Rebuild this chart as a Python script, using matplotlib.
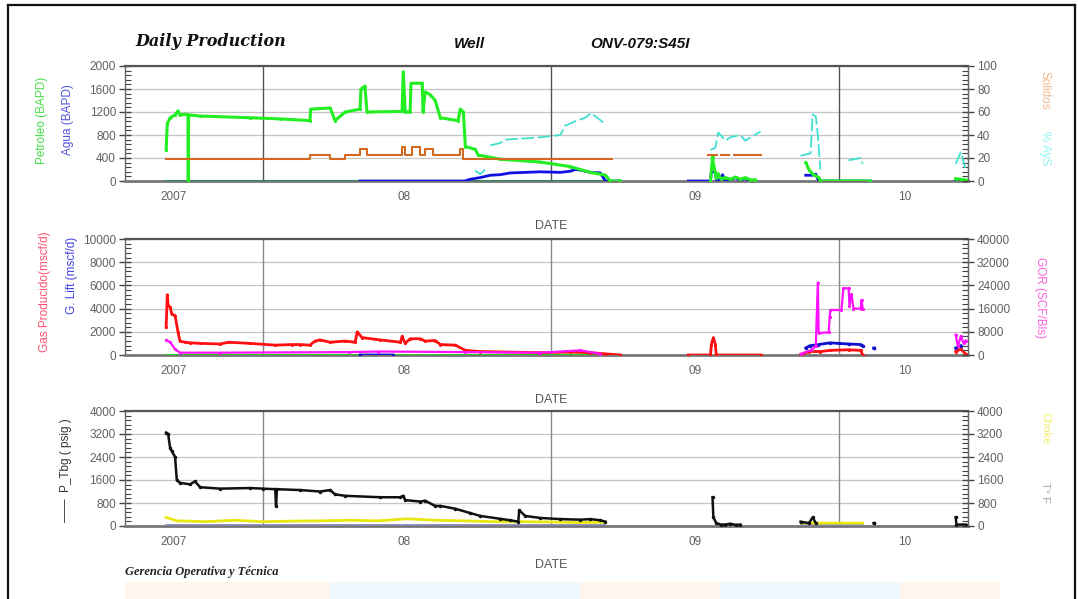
import matplotlib.pyplot as plt
import numpy as np
from matplotlib.ticker import MultipleLocator, AutoMinorLocator
from matplotlib.patches import Rectangle

nan = np.nan

# x positions are decimal years
year_ticks = [2007.19, 2007.99, 2009.0, 2009.73]
year_labels = ['2007', '08', '09', '10']
year_lines = [2007.5, 2008.5, 2009.5]
x_range = (2007.02, 2009.95)

# ---- panel 1: oil, water (BAPD) / solids, cyan (%) ----
oil_x = [2007.163, 2007.167, 2007.177, 2007.194, 2007.204, 2007.211, 2007.229, 2007.239, 2007.240,
         2007.241, 2007.281, 2007.455, 2007.559, 2007.663, 2007.665, 2007.733, 2007.750, 2007.785,
         2007.837, 2007.840, 2007.854, 2007.861, 2007.983, 2007.987, 2007.994, 2008.011, 2008.014,
         2008.053, 2008.056, 2008.063, 2008.081, 2008.098, 2008.116, 2008.178, 2008.185, 2008.196,
         2008.203, 2008.237, 2008.248, 2008.324, 2008.463, 2008.568, 2008.637, 2008.690, 2008.707,
         2008.742, nan,
         2009.055, 2009.062, 2009.065, 2009.072, 2009.075, 2009.082, 2009.090, 2009.107, 2009.124,
         2009.142, 2009.159, 2009.176, 2009.194, 2009.211, nan,
         2009.386, 2009.397, 2009.410, 2009.431, 2009.437, 2009.611, nan,
         2009.907, 2009.925, 2009.942]
oil_y = [540, 1000, 1100, 1150, 1220, 1150, 1160, 1150, 0,
         1150, 1130, 1100, 1080, 1050, 1250, 1270, 1050, 1200,
         1250, 1600, 1650, 1200, 1210, 1900, 1200, 1200, 1700,
         1700, 1200, 1550, 1500, 1400, 1100, 1050, 1250, 1200,
         600, 550, 450, 380, 330, 250, 150, 100, 0,
         0, nan,
         0, 420, 300, 150, 50, 130, 40, 60, 30,
         70, 30, 60, 20, 20, nan,
         320, 200, 120, 60, 0, 0, nan,
         40, 30, 20]

water_x = [2007.837, 2008.200, 2008.220, 2008.255, 2008.290, 2008.324, 2008.359, 2008.411, 2008.463,
           2008.533, 2008.568, 2008.585, 2008.603, 2008.637, 2008.672, 2008.690, 2008.742, nan,
           2008.978, 2009.055, 2009.058, 2009.072, 2009.075, 2009.090, 2009.097, 2009.104, 2009.124,
           2009.142, 2009.155, 2009.176, 2009.190, 2009.211, nan,
           2009.386, 2009.410, 2009.421, 2009.431, 2009.611, nan,
           2009.907, 2009.942]
water_y = [0, 0, 30, 60, 100, 110, 140, 150, 160,
           150, 170, 200, 190, 150, 140, 0, 0, nan,
           0, 0, 160, 160, 20, 20, 110, 20, 20,
           60, 20, 40, 10, 10, nan,
           100, 100, 120, 0, 0, nan,
           10, 10]

solids_x = [2007.163, 2007.663, 2007.733, 2007.785, 2007.837, 2007.861, 2007.983, 2007.994, 2008.018,
            2008.046, 2008.063, 2008.091, 2008.185, 2008.196, 2008.714, nan,
            2009.045, 2009.076, nan, 2009.093, 2009.121, nan, 2009.138, 2009.229]
solids_y = [19, 23, 19, 23, 27.5, 23, 30, 23, 30,
            23, 27.5, 23, 27.5, 19, 19, nan,
            23, 23, nan, 23, 23, nan, 23, 23]

cyan_x = [2008.237, 2008.255, 2008.272, nan, 2008.290, 2008.324, 2008.340, 2008.410, 2008.463,
          2008.533, 2008.550, 2008.585, 2008.620, 2008.640, 2008.672, 2008.690, nan,
          2009.055, 2009.072, 2009.082, 2009.090, 2009.107, 2009.124, 2009.159, 2009.176, 2009.194,
          2009.229, nan,
          2009.368, 2009.403, 2009.410, 2009.421, 2009.428, 2009.437, nan,
          2009.535, 2009.577, 2009.584, nan,
          2009.907, 2009.925, 2009.942]
cyan_y = [9, 6, 10, nan, 31, 33, 36, 37, 38,
          40, 48, 52, 55, 59, 53, 49, nan,
          27, 29, 42, 40, 35, 38, 40, 35, 38,
          43, nan,
          22, 24, 58, 56, 40, 10, nan,
          18, 20, 15, nan,
          15, 25, 10]

# ---- panel 2: gas, gas lift (mscf/d) / GOR ----
gas_x = [2007.163, 2007.167, 2007.170, 2007.177, 2007.183, 2007.194, 2007.204, 2007.211, 2007.229,
         2007.246, 2007.281, 2007.350, 2007.380, 2007.455, 2007.542, 2007.600, 2007.629, 2007.663,
         2007.680, 2007.698, 2007.733, 2007.785, 2007.820, 2007.827, 2007.844, 2007.907, 2007.977,
         2007.983, 2007.994, 2008.011, 2008.046, 2008.063, 2008.098, 2008.116, 2008.168, 2008.203,
         2008.255, 2008.463, 2008.568, 2008.637, 2008.690, 2008.742, nan,
         2008.978, 2009.055, 2009.058, 2009.065, 2009.072, 2009.075, 2009.229, nan,
         2009.368, 2009.397, 2009.437, 2009.472, 2009.535, 2009.577, 2009.584, nan,
         2009.907, 2009.925, 2009.942]
gas_y = [2400, 5200, 4300, 4100, 3500, 3400, 2000, 1200, 1100,
         1050, 1000, 950, 1100, 1000, 850, 900, 900, 850,
         1200, 1300, 1100, 1200, 1100, 2000, 1500, 1300, 1100,
         1600, 1000, 1400, 1400, 1200, 1250, 900, 850, 400,
         300, 200, 250, 200, 100, 0, nan,
         0, 0, 900, 1500, 900, 0, 0, nan,
         0, 300, 300, 400, 450, 400, 0, nan,
         300, 500, 100]

lift_x = [2007.837, 2007.950, nan,
          2009.386, 2009.400, 2009.430, 2009.470, 2009.500, 2009.535, 2009.577, 2009.584, nan,
          2009.622, 2009.624, nan, 2009.907, 2009.925]
lift_y = [0, 0, nan,
          600, 800, 900, 1050, 1000, 950, 900, 800, nan,
          600, 600, nan, 600, 800]

gor_x = [2007.163, 2007.177, 2007.194, 2007.211, 2007.350, 2007.800, 2007.900, 2008.200, 2008.460,
         2008.500, 2008.603, 2008.672, nan,
         2009.368, 2009.403, 2009.421, 2009.428, 2009.431, 2009.466, 2009.469, 2009.472, 2009.510,
         2009.517, 2009.535, 2009.538, 2009.545, 2009.552, 2009.577, 2009.580, 2009.584, nan,
         2009.907, 2009.915, 2009.925, 2009.935, 2009.942]
gor_y = [5200, 4400, 2000, 800, 800, 1000, 1200, 1000, 800,
         1000, 1600, 400, nan,
         400, 1600, 3000, 25000, 7600, 7800, 13000, 15500, 15500,
         23000, 23000, 17000, 21000, 16000, 16000, 19000, 16000, nan,
         7000, 3000, 6500, 4000, 5000]

# ---- panel 3: tubing pressure and others (psig) ----
ptbg_x = [2007.163, 2007.170, 2007.177, 2007.183, 2007.194, 2007.200, 2007.211, 2007.246, 2007.263,
          2007.281, 2007.350, 2007.455, 2007.500, 2007.542, 2007.545, 2007.548, 2007.629, 2007.698,
          2007.733, 2007.750, 2007.785, 2007.907, 2007.977, 2007.987, 2007.994, 2008.046, 2008.063,
          2008.098, 2008.116, 2008.168, 2008.220, 2008.255, 2008.324, 2008.359, 2008.387, 2008.390,
          2008.411, 2008.463, 2008.533, 2008.603, 2008.637, 2008.672, 2008.690, nan,
          2009.062, 2009.065, 2009.075, 2009.090, 2009.107, 2009.124, 2009.142, 2009.159, nan,
          2009.368, 2009.397, 2009.410, 2009.421, nan, 2009.622, 2009.624, nan,
          2009.907, 2009.910, 2009.942]
ptbg_y = [3250, 3200, 2700, 2600, 2400, 1600, 1500, 1450, 1550,
          1350, 1300, 1320, 1300, 1280, 700, 1280, 1250, 1200,
          1250, 1100, 1050, 1000, 1000, 1050, 900, 850, 880,
          700, 700, 600, 450, 350, 250, 200, 150, 550,
          350, 280, 240, 220, 240, 200, 150, nan,
          1000, 300, 100, 50, 50, 80, 40, 50, nan,
          150, 100, 300, 100, nan, 100, 100, nan,
          300, 50, 50]

yellow_x = [2007.163, 2007.200, 2007.300, 2007.400, 2007.500, 2007.600, 2007.700, 2007.800, 2007.900,
            2008.000, 2008.100, 2008.200, 2008.300, 2008.400, 2008.500, 2008.600, 2008.690, nan,
            2009.370, 2009.584]
yellow_y = [300, 180, 150, 200, 150, 170, 180, 200, 180,
            250, 200, 180, 150, 150, 140, 120, 130, nan,
            100, 100]

gray_x = [2007.163, 2008.690, nan, 2009.370, 2009.584]
gray_y = [40, 40, nan, 50, 50]

W, H = 1078, 599
fig = plt.figure(figsize=(W / 100, H / 100), dpi=100)
plt.rcParams['font.family'] = ['Liberation Sans', 'DejaVu Sans']

tick_col = '#606060'


def style(ax, ymax, ystep, line_col):
    ax.set_xlim(*x_range)
    ax.set_ylim(0, ymax)
    ax.yaxis.set_major_locator(MultipleLocator(ystep))
    ax.yaxis.set_minor_locator(AutoMinorLocator(5))
    ax.yaxis.grid(True, color='#c4c4c4', lw=0.9)
    ax.set_axisbelow(True)
    for y in year_lines:
        ax.axvline(y, color=line_col, lw=1.0, zorder=1)
    ax.set_xticks(year_ticks)
    ax.set_xticklabels(year_labels)
    ax.tick_params(axis='x', length=0, pad=7, labelsize=8.5, labelcolor=tick_col)
    ax.tick_params(axis='y', which='major', direction='inout', length=9, width=1,
                   color='#444', labelsize=8.5, labelcolor=tick_col, pad=2)
    ax.tick_params(axis='y', which='minor', direction='in', length=4, width=0.8, color='#444')
    for s in ax.spines.values():
        s.set_color('#666666')
        s.set_linewidth(1.0)
    ax.spines['top'].set_linewidth(1.6)
    ax.spines['top'].set_color('#555555')
    ax.spines['bottom'].set_linewidth(2.0)
    ax.spines['bottom'].set_color('#777777')


def right(ax, ymax, ystep):
    r = ax.twinx()
    r.set_ylim(0, ymax)
    r.yaxis.set_major_locator(MultipleLocator(ystep))
    r.yaxis.set_minor_locator(AutoMinorLocator(5))
    r.tick_params(axis='y', which='major', direction='inout', length=9, width=1,
                  color='#444', labelsize=8.5, labelcolor=tick_col, pad=2)
    r.tick_params(axis='y', which='minor', direction='in', length=4, width=0.8, color='#444')
    for s in r.spines.values():
        s.set_visible(False)
    r.spines['right'].set_visible(True)
    r.spines['right'].set_color('#666666')
    return r


def rect(top, bottom):
    return [125 / W, 1 - bottom / H, (968 - 125) / W, (bottom - top) / H]


# panel 1
ax1 = fig.add_axes(rect(66, 181))
style(ax1, 2000, 400, '#555555')
ax1r = right(ax1, 100, 20)
ax1.plot([2007.163, 2008.72], [0, 0], color='#2e8b57', lw=2.2, zorder=3)
ax1r.plot(solids_x, solids_y, color='#d2691e', lw=1.5, drawstyle='steps-post', zorder=3)
ax1r.plot(cyan_x, cyan_y, color='#40e0d0', lw=1.3, ls=(0, (7, 2)), zorder=3)
ax1.plot(water_x, water_y, color='#1010e0', lw=2.0, zorder=4)
ax1.plot(oil_x, oil_y, color='#22ee22', lw=2.2, zorder=5, marker='.', markersize=2.5)

# panel 2
ax2 = fig.add_axes(rect(239, 355))
style(ax2, 10000, 2000, '#888888')
ax2r = right(ax2, 40000, 8000)
ax2.plot([2007.163, 2008.72], [0, 0], color='#22cc22', lw=1.5, zorder=3)
ax2.plot(lift_x, lift_y, color='#1010d0', lw=2.0, marker='.', markersize=3, zorder=4)
ax2.plot(gas_x, gas_y, color='#ff1010', lw=2.0, marker='.', markersize=2.5, zorder=5)
ax2r.plot(gor_x, gor_y, color='#ff10ff', lw=1.6, marker='.', markersize=2.5, zorder=6)

# panel 3
ax3 = fig.add_axes(rect(411, 526))
style(ax3, 4000, 800, '#888888')
ax3r = right(ax3, 4000, 800)
ax3.plot(gray_x, gray_y, color='#8080b0', lw=1.2, zorder=3)
ax3.plot(yellow_x, yellow_y, color='#e8e810', lw=2.0, zorder=4)
ax3.plot(ptbg_x, ptbg_y, color='#111111', lw=1.8, marker='.', markersize=3, zorder=5)

# axis titles
for yy in [226, 400, 565]:
    fig.text(551 / W, 1 - yy / H, 'DATE', ha='center', va='center', fontsize=9, color='#555555')

fig.text(42 / W, 1 - 120 / H, 'Petroleo (BAPD)', rotation=90, ha='center', va='center',
         fontsize=8.5, color='#44e044')
fig.text(68 / W, 1 - 120 / H, 'Agua (BAPD)', rotation=90, ha='center', va='center',
         fontsize=8.5, color='#5050e0')
fig.text(45 / W, 1 - 292 / H, 'Gas Producido(mscf/d)', rotation=90, ha='center', va='center',
         fontsize=8.5, color='#ff5070')
fig.text(72 / W, 1 - 275 / H, 'G. Lift (mscf/d)', rotation=90, ha='center', va='center',
         fontsize=8.5, color='#4040e0')
fig.text(66 / W, 1 - 470 / H, '\u2014\u2014  P_Tbg ( psig )', rotation=90, ha='center',
         va='center', fontsize=8.5, color='#333333')
fig.text(1045 / W, 1 - 90 / H, 'Solidos', rotation=270, ha='center', va='center',
         fontsize=8.5, color='#f0b890')
fig.text(1045 / W, 1 - 148 / H, '% AyS', rotation=270, ha='center', va='center',
         fontsize=8.5, color='#90f4f0')
fig.text(1040 / W, 1 - 298 / H, 'GOR (SCF/Bls)', rotation=270, ha='center', va='center',
         fontsize=8.5, color='#ff60e0')
fig.text(1045 / W, 1 - 428 / H, 'Choke', rotation=270, ha='center', va='center',
         fontsize=8, color='#f0f060')
fig.text(1045 / W, 1 - 493 / H, 'T\u00b0 F', rotation=270, ha='center', va='center',
         fontsize=8, color='#a8a8a8')

# titles
fig.text(135 / W, 1 - 42 / H, 'Daily Production', ha='left', va='center', fontsize=11.5,
         family='DejaVu Serif', style='italic', weight='bold', color='#111111')
fig.text(469 / W, 1 - 44 / H, 'Well', ha='center', va='center', fontsize=11,
         style='italic', weight='bold', color='#111111')
fig.text(640 / W, 1 - 44 / H, 'ONV-079:S45I', ha='center', va='center', fontsize=11,
         style='italic', weight='bold', color='#111111')
fig.text(125 / W, 1 - 572 / H, 'Gerencia Operativa y T\u00e9cnica', ha='left', va='center',
         fontsize=9, family='Liberation Serif', style='italic', weight='bold', color='#222222')

# faint watermark band at the bottom
for x0, x1, c in [(125, 330, '#fef6ec'), (330, 580, '#eef8fd'), (580, 720, '#fef6ec'),
                  (720, 900, '#eef8fd'), (900, 1000, '#fef6ec')]:
    fig.patches.append(Rectangle((x0 / W, 0), (x1 - x0) / W, 17 / H, transform=fig.transFigure,
                                 facecolor=c, edgecolor='none', zorder=0))

# outer frame
fig.add_artist(plt.Line2D([8 / W, 8 / W], [0, 1 - 5 / H], transform=fig.transFigure,
                          color='#111111', lw=1.6))
fig.add_artist(plt.Line2D([8 / W, 1075 / W], [1 - 5 / H, 1 - 5 / H], transform=fig.transFigure,
                          color='#111111', lw=1.6))
fig.add_artist(plt.Line2D([1075 / W, 1075 / W], [0, 1 - 5 / H], transform=fig.transFigure,
                          color='#111111', lw=1.6))

fig.savefig('out.png', dpi=100)
